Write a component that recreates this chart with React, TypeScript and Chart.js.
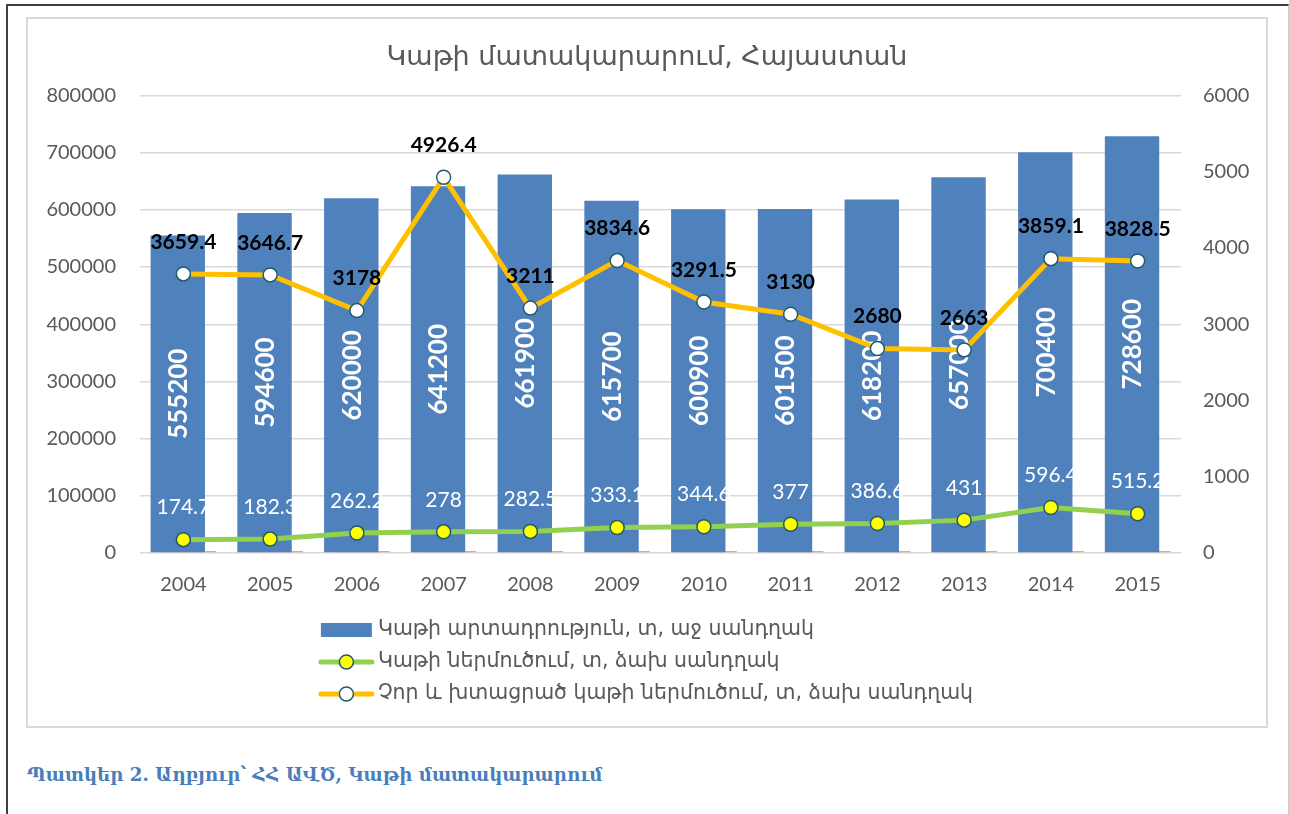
import React, { useEffect, useRef } from 'react';
import { Chart, registerables } from 'chart.js';

Chart.register(...registerables);

const years = ['2004', '2005', '2006', '2007', '2008', '2009', '2010', '2011', '2012', '2013', '2014', '2015'];
const production = [555200, 594600, 620000, 641200, 661900, 615700, 600900, 601500, 618200, 657000, 700400, 728600];
const milkImport = [174.7, 182.3, 262.2, 278, 282.5, 333.1, 344.6, 377, 386.6, 431, 596.4, 515.2];
const powderImport = [3659.4, 3646.7, 3178, 4926.4, 3211, 3834.6, 3291.5, 3130, 2680, 2663, 3859.1, 3828.5];

const TITLE = 'Կաթի մատակարարում, Հայաստան';
const LABEL_PROD = 'Կաթի արտադրություն, տ, աջ սանդղակ';
const LABEL_MILK = 'Կաթի ներմուծում, տ, ձախ սանդղակ';
const LABEL_POWDER = 'Չոր և խտացրած կաթի ներմուծում, տ, ձախ սանդղակ';
const LABEL_HIDDEN = 'hidden';
const CAPTION = 'Պատկեր 2. Աղբյուր՝ ՀՀ ԱՎԾ, Կաթի մատակարարում';

const BLUE = '#4f81bd';
const GREEN = '#92d050';
const YELLOW = '#ffc000';
const MARKER_EDGE = '#215a6e';
const TEXT = '#595959';
const NUM_FONT = 'Lato, "DejaVu Sans", sans-serif';
const ARM_FONT = '"DejaVu Sans", sans-serif';

const CANVAS_W = 1238;
const CANVAS_H = 707;

const valueLabels = {
  id: 'valueLabels',
  afterDatasetDraw(chart: any, args: any) {
    const ds = chart.data.datasets[args.index];
    if (ds.label !== LABEL_PROD) return;
    const ctx = chart.ctx;
    ctx.save();
    ctx.font = 'bold 26px ' + NUM_FONT;
    ctx.fillStyle = '#ffffff';
    ctx.textAlign = 'center';
    ctx.textBaseline = 'middle';
    args.meta.data.forEach((el: any, i: number) => {
      const p = el.getProps(['x', 'y', 'base'], true);
      ctx.save();
      ctx.translate(p.x, (p.y + p.base) / 2);
      ctx.rotate(-Math.PI / 2);
      ctx.fillText(String(production[i]), 0, 1);
      ctx.restore();
    });
    ctx.restore();
  },
  afterDatasetsDraw(chart: any) {
    const ctx = chart.ctx;
    chart.data.datasets.forEach((ds: any, di: number) => {
      const meta = chart.getDatasetMeta(di);
      if (ds.label === LABEL_MILK) {
        ctx.save();
        ctx.font = '21px ' + NUM_FONT;
        ctx.fillStyle = '#ffffff';
        ctx.textAlign = 'center';
        ctx.textBaseline = 'middle';
        meta.data.forEach((el: any, i: number) => {
          ctx.fillText(String(milkImport[i]), el.x, el.y - 32);
        });
        ctx.restore();
      } else if (ds.label === LABEL_POWDER) {
        ctx.save();
        ctx.font = 'bold 21px ' + NUM_FONT;
        ctx.fillStyle = '#000000';
        ctx.textAlign = 'center';
        ctx.textBaseline = 'middle';
        meta.data.forEach((el: any, i: number) => {
          ctx.fillText(String(powderImport[i]), el.x, el.y - 32);
        });
        ctx.restore();
      }
    });
  },
};

const customLegend = {
  id: 'customLegend',
  afterDraw(chart: any) {
    const ctx = chart.ctx;
    const items = [
      { text: LABEL_PROD, kind: 'bar', color: BLUE, fill: BLUE },
      { text: LABEL_MILK, kind: 'line', color: GREEN, fill: '#ffff00' },
      { text: LABEL_POWDER, kind: 'line', color: YELLOW, fill: '#ffffff' },
    ];
    ctx.save();
    ctx.font = '20.5px ' + ARM_FONT;
    const symW = 51;
    const gap = 6;
    let maxW = 0;
    items.forEach((it) => {
      maxW = Math.max(maxW, ctx.measureText(it.text).width);
    });
    const blockW = symW + gap + maxW;
    const x0 = (chart.width - blockW) / 2;
    const rowY0 = chart.chartArea.bottom + 77;
    const rowH = 32;
    items.forEach((it, i) => {
      const cy = rowY0 + i * rowH;
      if (it.kind === 'bar') {
        ctx.fillStyle = it.fill;
        ctx.fillRect(x0, cy - 7, symW, 14);
      } else {
        ctx.strokeStyle = it.color;
        ctx.lineWidth = 5;
        ctx.lineCap = 'round';
        ctx.beginPath();
        ctx.moveTo(x0, cy);
        ctx.lineTo(x0 + symW, cy);
        ctx.stroke();
        ctx.beginPath();
        ctx.arc(x0 + symW / 2, cy, 7, 0, Math.PI * 2);
        ctx.fillStyle = it.fill;
        ctx.fill();
        ctx.lineWidth = 1.5;
        ctx.strokeStyle = MARKER_EDGE;
        ctx.stroke();
      }
      ctx.fillStyle = TEXT;
      ctx.textAlign = 'left';
      ctx.textBaseline = 'middle';
      ctx.fillText(it.text, x0 + symW + gap, cy);
    });
    ctx.restore();
  },
};

function ChartView() {
  const ref = useRef<HTMLCanvasElement | null>(null);
  useEffect(() => {
    if (!ref.current) return;
    const chart = new Chart(ref.current, {
      type: 'bar',
      data: {
        labels: years,
        datasets: [
          {
            type: 'line',
            label: LABEL_POWDER,
            data: powderImport,
            yAxisID: 'y1',
            borderColor: YELLOW,
            borderWidth: 5,
            pointRadius: 7,
            pointBackgroundColor: '#ffffff',
            pointBorderColor: MARKER_EDGE,
            pointBorderWidth: 1.5,
            tension: 0,
            order: 0,
          },
          {
            type: 'line',
            label: LABEL_MILK,
            data: milkImport,
            yAxisID: 'y1',
            borderColor: GREEN,
            borderWidth: 5,
            pointRadius: 7,
            pointBackgroundColor: '#ffff00',
            pointBorderColor: MARKER_EDGE,
            pointBorderWidth: 1.5,
            tension: 0,
            order: 1,
          },
          {
            type: 'bar',
            label: LABEL_PROD,
            data: production,
            yAxisID: 'y',
            backgroundColor: BLUE,
            categoryPercentage: 0.258,
            barPercentage: 4.86,
            order: 2,
          },
          {
            type: 'bar',
            label: LABEL_HIDDEN,
            data: milkImport,
            yAxisID: 'y',
            backgroundColor: '#ee9f95',
            minBarLength: 2,
            categoryPercentage: 0.258,
            barPercentage: 4.86,
            order: 3,
          },
        ],
      },
      options: {
        responsive: false,
        animation: false,
        devicePixelRatio: 1,
        layout: { padding: { left: 0, right: 0, top: 0, bottom: 109 } },
        plugins: {
          legend: { display: false },
          tooltip: { enabled: false },
          title: {
            display: true,
            text: TITLE,
            color: TEXT,
            font: { family: ARM_FONT, size: 27, weight: 'normal' },
            padding: { top: 23, bottom: 21 },
          },
        },
        scales: {
          x: {
            grid: { display: false, drawTicks: false },
            border: { display: false },
            ticks: { color: TEXT, font: { family: NUM_FONT, size: 20 }, padding: 20 },
          },
          y: {
            position: 'left',
            min: 0,
            max: 800000,
            ticks: {
              stepSize: 100000,
              color: TEXT,
              font: { family: NUM_FONT, size: 20 },
              padding: 24,
              callback: (v: any) => String(v),
            },
            grid: { color: '#d9d9d9', lineWidth: 1.4, drawTicks: false },
            border: { display: false },
            afterFit: (s: any) => { s.width = 112; },
          },
          y1: {
            position: 'right',
            min: 0,
            max: 6000,
            ticks: {
              stepSize: 1000,
              color: TEXT,
              font: { family: NUM_FONT, size: 20 },
              padding: 22,
              callback: (v: any) => String(v),
            },
            grid: { display: false, drawTicks: false },
            border: { display: false },
            afterFit: (s: any) => { s.width = 85; },
          },
        },
      },
      plugins: [valueLabels, customLegend],
    } as any);
    return () => chart.destroy();
  }, []);
  return <canvas ref={ref} width={CANVAS_W} height={CANVAS_H} style={{ display: 'block', width: CANVAS_W, height: CANVAS_H }} />;
}

export default function App() {
  return (
    <div style={{ position: 'absolute', left: 0, top: 0, width: 1289, height: 814, overflow: 'hidden', background: '#ffffff' }}>
      <div
        style={{
          position: 'absolute',
          left: 6,
          top: 4,
          width: 1283,
          height: 820,
          boxSizing: 'border-box',
          borderLeft: '2px solid #404040',
          borderTop: '2px solid #404040',
          borderRight: '1px solid #c8c8c8',
        }}
      />
      <div
        style={{
          position: 'absolute',
          left: 26,
          top: 17,
          width: 1242,
          height: 711,
          boxSizing: 'border-box',
          border: '2px solid #d9d9d9',
          background: '#ffffff',
        }}
      >
        <ChartView />
      </div>
      <div
        style={{
          position: 'absolute',
          left: 27,
          top: 764,
          fontFamily: '"DejaVu Serif", serif',
          fontWeight: 'bold',
          fontSize: 18.2,
          color: '#4a7ebb',
          whiteSpace: 'nowrap',
        }}
      >
        {CAPTION}
      </div>
    </div>
  );
}
